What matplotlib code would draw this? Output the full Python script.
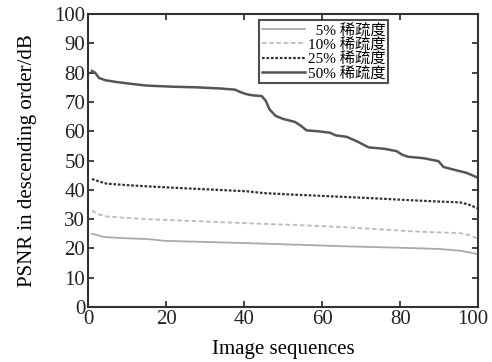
import matplotlib
matplotlib.use("Agg")
import matplotlib.pyplot as plt
import matplotlib.transforms as mtransforms

plt.rcParams['font.family'] = ['Liberation Serif', 'Noto Sans CJK SC', 'DejaVu Sans']

x50 = [1, 1.8, 2.8, 4.5, 7.4, 11, 15, 22, 27.9, 34, 37.7, 39.0, 40.5, 42, 44.5, 45.5, 46.5, 48, 50, 53, 54.4, 56, 59, 62, 63.5, 66.3, 69, 71.9, 76, 79.1, 80.5, 82, 86, 89.8, 91.1, 94, 97, 100]
y50 = [80.6, 80.0, 78.2, 77.4, 76.8, 76.2, 75.6, 75.2, 75.0, 74.6, 74.2, 73.4, 72.7, 72.3, 72.0, 70.5, 67.5, 65.3, 64.2, 63.2, 62.0, 60.3, 60.0, 59.5, 58.6, 58.1, 56.5, 54.5, 54.0, 53.2, 52.0, 51.3, 50.8, 49.8, 47.8, 46.8, 45.8, 44.1]

x25 = [1, 2.5, 4.8, 10, 15, 23.6, 33, 40.7, 44.9, 52, 62, 72, 83.4, 90, 95.4, 97.5, 100]
y25 = [43.7, 43.0, 42.1, 41.6, 41.2, 40.6, 40.0, 39.5, 38.9, 38.4, 37.8, 37.2, 36.4, 36.0, 35.7, 35.0, 33.6]

x10 = [1, 2.5, 4.8, 10, 15, 28, 40.7, 55, 66.3, 75, 83.4, 95.4, 97.5, 100]
y10 = [32.9, 31.7, 30.9, 30.4, 30.0, 29.3, 28.6, 27.9, 27.2, 26.5, 25.8, 25.2, 24.6, 23.3]

x5 = [1, 2.5, 4.0, 9, 15, 17.5, 19.3, 30, 40.7, 55, 66.3, 75, 83.4, 90, 95.4, 97.5, 100]
y5 = [25.0, 24.5, 23.9, 23.5, 23.2, 22.9, 22.6, 22.2, 21.8, 21.2, 20.7, 20.4, 20.1, 19.8, 19.2, 18.7, 18.0]

labels = ['  5% 稀疏度', '10% 稀疏度', '25% 稀疏度', '50% 稀疏度']
xticks = [0, 20, 40, 60, 80, 100]
yticks = list(range(0, 101, 10))

fig = plt.figure(figsize=(4.92, 3.62), dpi=100)
ax = fig.add_axes([0.179, 0.152, 0.793, 0.809])

ax.plot(x5, y5, color='#aaaaaa', lw=1.3, ls='-', label=labels[0])
ax.plot(x10, y10, color='#bbbbbb', lw=1.3, ls=(0, (2.5, 1.5)), label=labels[1])
ax.plot(x25, y25, color='#333333', lw=1.6, ls=(0, (1.2, 0.8)), label=labels[2])
ax.plot(x50, y50, color='#555555', lw=1.8, ls='-', label=labels[3])

ax.set_xlim(0, 100)
ax.set_ylim(0, 100)
ax.set_xticks(xticks)
ax.set_yticks(yticks)
ax.tick_params(direction='in', top=True, right=True, labelsize=15, length=4, width=1.2, colors='#222222', pad=2)
for s in ax.spines.values():
    s.set_linewidth(1.5)
    s.set_color('#333333')

# nudge the last x tick label slightly left so it stays inside the figure
last = ax.get_xticklabels()[-1]
last.set_transform(last.get_transform() + mtransforms.ScaledTranslation(-5 / 100, 0, fig.dpi_scale_trans))

ax.set_xlabel('Image sequences', fontsize=15, labelpad=8)
ax.set_ylabel('PSNR in descending order/dB', fontsize=15, labelpad=12)

leg = ax.legend(loc='upper left', bbox_to_anchor=(0.43, 0.99), fontsize=11, frameon=True, fancybox=False,
                edgecolor='#222222', handlelength=2.8, handletextpad=0.2, labelspacing=0.0,
                borderpad=0.2, borderaxespad=0.2)
leg.get_frame().set_linewidth(1.5)

fig.savefig('out.png', dpi=100)
